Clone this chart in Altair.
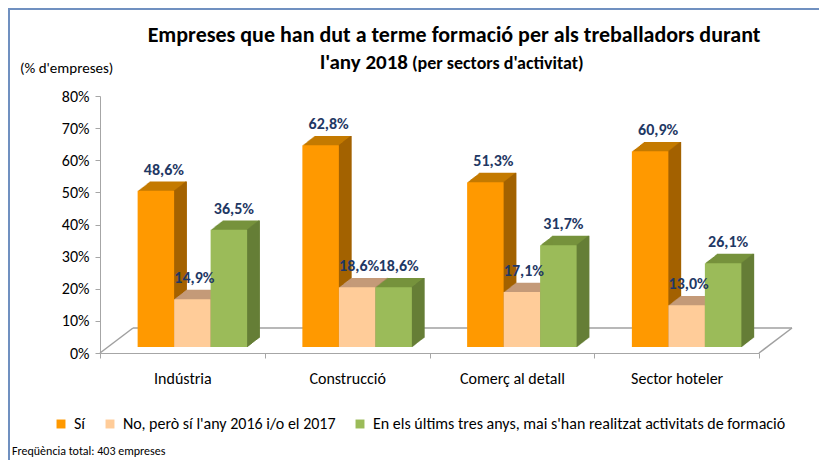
import altair as alt
import pandas as pd

# ---- data ----
sectors = ["Indústria", "Construcció", "Comerç al detall", "Sector hoteler"]
series = ["Sí", "No, però sí l'any 2016 i/o el 2017",
          "En els últims tres anys, mai s'han realitzat activitats de formació"]
si = [48.6, 62.8, 51.3, 60.9]
no_pero = [14.9, 18.6, 17.1, 13.0]
mai = [36.5, 18.6, 31.7, 26.1]
y_ticks = [0, 10, 20, 30, 40, 50, 60, 70, 80]

front_colors = ["#FF9900", "#FFCC99", "#9BBB59"]
top_colors = ["#C47A00", "#C49A78", "#76923C"]
side_colors = ["#A36200", "#B38B68", "#667E37"]

rows = []
for i, s in enumerate(sectors):
    for j, vals in enumerate([si, no_pero, mai]):
        rows.append(dict(sector=s, serie=series[j], v=vals[i]))
df = pd.DataFrame(rows)

W, H = 659, 257
FONT = "Carlito, Lato, sans-serif"
AX = "#A6A6A6"
DEPTH = 12
BW = 36.5                     # bar width
SHIFT = 10                    # group shift inside band
OFFS = [SHIFT - BW, SHIFT, SHIFT + BW]
LAB_DX = [8, 2, 5]
LIFT = 6                      # bars stand slightly above the floor front edge

x_enc = alt.X("sector:N", sort=sectors,
              scale=alt.Scale(paddingInner=0, paddingOuter=0),
              axis=alt.Axis(title=None, labelAngle=0, tickBand="extent",
                            domainColor=AX, tickColor=AX, tickSize=5,
                            labelFont=FONT, labelFontSize=16, labelColor="#000000",
                            labelPadding=12))
y_enc = alt.Y("v:Q", scale=alt.Scale(domain=[0, 80]),
              axis=alt.Axis(title=None, values=y_ticks, grid=False,
                            labelExpr="datum.value + '%'",
                            domainColor=AX, tickColor=AX, tickSize=5,
                            labelFont=FONT, labelFontSize=16, labelColor="#000000",
                            labelPadding=6))

base = alt.Chart(df).encode(x=x_enc, y=y_enc)

layers = []
one = alt.Data(values=[{"a": 1}])

# border of the chart frame
layers.append(alt.Chart(one).mark_rect(fill="transparent", stroke="#7090C0", strokeWidth=2).encode(
    x=alt.value(-91), x2=alt.value(800), y=alt.value(-87), y2=alt.value(420)))

# floor of the 3D plot
floor_col = "#A0A0A0"
fx, fy = 33, 25
layers.append(alt.Chart(one).mark_rule(color=floor_col, strokeWidth=1.5).encode(
    x=alt.value(0), x2=alt.value(fx), y=alt.value(H), y2=alt.value(H - fy)))
layers.append(alt.Chart(one).mark_rule(color=floor_col, strokeWidth=1.5).encode(
    x=alt.value(fx), x2=alt.value(W + fx), y=alt.value(H - fy), y2=alt.value(H - fy)))
layers.append(alt.Chart(one).mark_rule(color=floor_col, strokeWidth=1.5).encode(
    x=alt.value(W), x2=alt.value(W + fx), y=alt.value(H), y2=alt.value(H - fy)))

for j, name in enumerate(series):
    sub = base.transform_filter(alt.datum.serie == name)
    off = OFFS[j]
    # extruded block (top face colour)
    for k in range(1, DEPTH + 1):
        dy = -LIFT - 0.78 * k
        layers.append(sub.mark_bar(color=top_colors[j], width=BW, xOffset=off + k,
                                   yOffset=dy, y2Offset=dy))
    # side face
    for k in range(0, DEPTH + 1):
        dy = -LIFT - 0.78 * k
        layers.append(sub.mark_rule(color=side_colors[j], strokeWidth=1.6,
                                    xOffset=off + BW / 2 + k, yOffset=dy, y2Offset=dy).encode(
            y2=alt.datum(0)))
    # front face
    layers.append(sub.mark_bar(width=BW, xOffset=off, yOffset=-LIFT, y2Offset=-LIFT).encode(
        color=alt.Color("serie:N", sort=series,
                        scale=alt.Scale(domain=series, range=front_colors),
                        legend=alt.Legend(title=None, orient="none", legendX=-47, legendY=320,
                                          direction="horizontal", symbolType="square",
                                          symbolSize=80, symbolStrokeWidth=0,
                                          labelFont=FONT, labelFontSize=16, labelColor="#000000",
                                          labelOffset=5, columnPadding=16, labelLimit=600))))

# value labels
for j, name in enumerate(series):
    layers.append(base.transform_filter(alt.datum.serie == name).transform_calculate(
        lab="replace(format(datum.v, '.1f'), '.', ',') + '%'").mark_text(
        font=FONT, fontSize=16, fontWeight="bold", color="#1F3864",
        dx=OFFS[j] + LAB_DX[j], dy=-LIFT - 16, baseline="alphabetic").encode(
        text=alt.Text("lab:N")))

# titles and notes
layers.append(alt.Chart(one).mark_text(font=FONT, fontSize=22, fontWeight="bold", color="#000000",
                                       align="center", baseline="alphabetic").encode(
    x=alt.value(354), y=alt.value(-54),
    text=alt.value("Empreses que han dut a terme formació per als treballadors durant")))
layers.append(alt.Chart(one).mark_text(font=FONT, fontSize=21, fontWeight="bold", color="#000000",
                                       align="right", baseline="alphabetic").encode(
    x=alt.value(308), y=alt.value(-27), text=alt.value("l'any 2018")))
layers.append(alt.Chart(one).mark_text(font=FONT, fontSize=18, fontWeight="bold", color="#000000",
                                       align="left", baseline="alphabetic").encode(
    x=alt.value(312), y=alt.value(-27), text=alt.value("(per sectors d'activitat)")))
layers.append(alt.Chart(one).mark_text(font=FONT, fontSize=15, color="#000000",
                                       align="left", baseline="middle").encode(
    x=alt.value(-80), y=alt.value(-28), text=alt.value("(% d'empreses)")))
layers.append(alt.Chart(one).mark_text(font=FONT, fontSize=12, color="#000000",
                                       align="left", baseline="middle").encode(
    x=alt.value(-88), y=alt.value(355), text=alt.value("Freqüència total: 403 empreses")))

chart = alt.layer(*layers).properties(
    width=W, height=H,
    autosize=alt.AutoSizeParams(type="none"),
    padding={"left": 92, "top": 88, "right": 60, "bottom": 107},
).configure_view(stroke=None)

chart.save("out.html", embed_options={"renderer": "svg", "actions": False})
